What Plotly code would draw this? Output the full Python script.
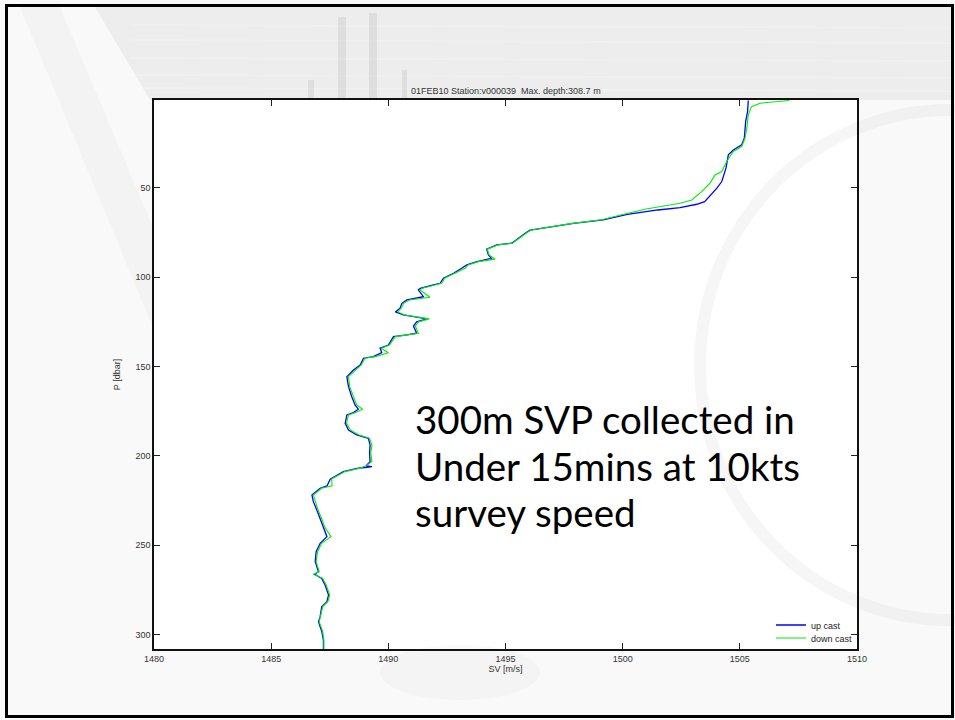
import plotly.graph_objects as go

# ---------------- data ----------------
up_p = [1.3, 7.5, 13, 22.4, 26, 29, 31.7, 39, 46.6, 50.3, 57.8, 59.3, 61.2, 62.5, 65, 68,
        70, 71.8, 73.7, 75.5, 78.3, 81.1, 82, 84.4, 87.6, 89.5, 91.4, 93.2, 95.1, 97.9,
        100.7, 103.5, 104.4, 106.3, 107.2, 111, 112.8, 114.7, 117.4, 119.5, 121.2, 123.4,
        125, 127.4, 131.4, 132.4, 133.3, 138, 139.8, 142.3, 144.5, 145.4, 149.2, 152,
        155.7, 161.3, 166.9, 171.5, 173.9, 175.8, 177.1, 181.8, 185.5, 188.3, 190.2,
        193.9, 198.5, 203.2, 205.6, 206, 206.5, 206.9, 208.8, 213, 216.8, 218.1, 221.9,
        225.6, 230.3, 234.9, 239.6, 245.2, 248.9, 253.6, 259.2, 264.8, 266.2, 268.5,
        272.2, 277.8, 281.5, 284.3, 289.9, 292.7, 298.3, 303, 308.5]
up_sv = [1505.36, 1505.33, 1505.25, 1505.19, 1505.08, 1504.72, 1504.51, 1504.41, 1504.23,
         1504.02, 1503.5, 1503.16, 1502.45, 1501.5, 1500.2, 1499.17, 1497.9, 1496.9,
         1496.05, 1495.84, 1495.55, 1495.27, 1494.63, 1494.2, 1494.27, 1494.4, 1493.78,
         1493.35, 1493.13, 1492.78, 1492.35, 1492.21, 1491.92, 1491.36, 1491.28, 1491.5,
         1490.79, 1490.58, 1490.5, 1490.3, 1490.64, 1491.65, 1491.21, 1491.07, 1491.21,
         1490.79, 1490.22, 1490.0, 1489.65, 1489.72, 1489.36, 1488.94, 1488.8, 1488.51,
         1488.23, 1488.3, 1488.44, 1488.58, 1488.72, 1488.51, 1488.23, 1488.16, 1488.3,
         1488.65, 1489.15, 1489.22, 1489.2, 1489.22, 1489.05, 1489.3, 1489.0, 1488.72,
         1488.08, 1487.52, 1487.38, 1487.09, 1486.74, 1486.8, 1486.95, 1487.09, 1487.23,
         1487.38, 1487.09, 1486.92, 1486.88, 1487.02, 1486.85, 1487.16, 1487.3, 1487.45,
         1487.38, 1487.16, 1487.09, 1487.02, 1487.16, 1487.23, 1487.23]

down_p = [1.3, 1.8, 2.8, 4.7, 9.3, 16.8, 22.4, 27, 29.8, 35.4, 41, 42.9, 47.5, 52.2, 56.9,
          58.7, 60, 62, 65, 68, 70, 71.8, 73.7, 75.5, 78.3, 81.1, 82, 84.4, 87.6, 90, 91.4,
          93.2, 95.1, 97.9, 100.7, 103.5, 104.4, 106.3, 107.2, 111.3, 112.8, 114.7, 117.4,
          119.5, 121.2, 123.4, 125, 127.4, 131.4, 132.4, 133.3, 138, 139.8, 142.3, 144.5,
          145.4, 149.2, 152, 155.7, 161.3, 166.9, 171.5, 173.9, 175.8, 177.1, 181.8, 185.5,
          188.3, 190.2, 193.9, 198.5, 203.2, 205.6, 206.9, 208.8, 213, 216.8, 218.1, 221.9,
          225.6, 230.3, 234.9, 239.6, 245.2, 248.9, 253.6, 259.2, 264.8, 266.2, 268.5,
          272.2, 277.8, 281.5, 284.3, 289.9, 292.7, 298.3, 303, 308.5]
down_sv = [1507.11, 1506.6, 1505.86, 1505.5, 1505.36, 1505.3, 1505.22, 1505.08, 1504.72,
           1504.44, 1504.23, 1503.94, 1503.73, 1503.37, 1502.95, 1502.45, 1501.8, 1501.0,
           1500.0, 1499.1, 1497.85, 1496.95, 1496.1, 1495.88, 1495.6, 1495.3, 1494.7,
           1494.22, 1494.3, 1494.56, 1493.85, 1493.4, 1493.28, 1492.85, 1492.4, 1492.28,
           1492.0, 1491.45, 1491.35, 1491.78, 1490.9, 1490.65, 1490.55, 1490.4, 1490.7,
           1491.75, 1491.3, 1491.15, 1491.28, 1490.85, 1490.3, 1490.05, 1489.7, 1490.0,
           1489.45, 1489.0, 1488.85, 1488.6, 1488.3, 1488.35, 1488.5, 1488.65, 1488.9,
           1488.6, 1488.3, 1488.22, 1488.38, 1488.75, 1489.2, 1489.3, 1489.25, 1489.3,
           1489.05, 1488.78, 1488.15, 1487.58, 1487.6, 1487.15, 1486.8, 1486.88, 1487.0,
           1487.15, 1487.28, 1487.55, 1487.15, 1486.98, 1486.92, 1487.05, 1486.8, 1487.2,
           1487.35, 1487.5, 1487.42, 1487.2, 1487.12, 1487.05, 1487.2, 1487.25, 1487.25]

x_ticks = [1480, 1485, 1490, 1495, 1500, 1505, 1510]
y_ticks = [50, 100, 150, 200, 250, 300]
title_text = "01FEB10 Station:v000039\u00a0 Max. depth:308.7 m"
note_lines = ["300m SVP collected in", "Under 15mins at 10kts", "survey speed"]
series_names = ["up cast", "down cast"]

# ---------------- layout geometry ----------------
W, H = 955, 720
L, R, T, B = 154, 857, 100, 649
PW, PH = R - L, B - T


def px(x):
    return (x - L) / PW


def py(y):
    return (B - y) / PH


fig = go.Figure()
fig.add_trace(go.Scatter(x=up_sv, y=up_p, mode="lines", name=series_names[0],
                         line=dict(color="#0000ff", width=1.3), legend="legend"))
fig.add_trace(go.Scatter(x=down_sv, y=down_p, mode="lines", name=series_names[1],
                         line=dict(color="#00f000", width=1.1), legend="legend2"))

axis_font = dict(family="Liberation Sans, Arial, sans-serif", size=9, color="#333333")
legend_font = dict(family="Liberation Sans, Arial, sans-serif", size=9, color="#222222")

fig.update_xaxes(range=[1480, 1510], tickvals=x_ticks, ticks="inside", ticklen=6,
                 tickcolor="#222222", showline=True, linecolor="#111111", linewidth=1.5,
                 mirror="ticks", showgrid=False, zeroline=False, tickfont=axis_font,
                 title=dict(text="SV [m/s]", font=axis_font, standoff=3))
fig.update_yaxes(range=[308, 1], tickvals=y_ticks, ticks="inside", ticklen=6,
                 tickcolor="#222222", showline=True, linecolor="#111111", linewidth=1.5,
                 mirror="ticks", showgrid=False, zeroline=False, tickfont=axis_font,
                 title=dict(text="P [dbar]", font=axis_font, standoff=13))

# background decorations (slide template)
shapes = []
# top textured band
shapes.append(dict(type="path", xref="paper", yref="paper",
                   path=f"M {px(95)},{py(7)} L {px(952)},{py(7)} L {px(952)},{py(100)} "
                        f"L {px(150)},{py(100)} Z",
                   fillcolor="rgba(215,215,215,0.35)", line=dict(width=0), layer="below"))
for yy in [25, 40, 58, 75, 88]:
    shapes.append(dict(type="line", xref="paper", yref="paper", x0=px(130), x1=px(952),
                       y0=py(yy), y1=py(yy + 3), line=dict(color="rgba(255,255,255,0.2)", width=2),
                       layer="below"))
# left diagonal band
shapes.append(dict(type="path", xref="paper", yref="paper",
                   path=f"M {px(20)},{py(7)} L {px(60)},{py(7)} L {px(154)},{py(230)} "
                        f"L {px(154)},{py(330)} Z",
                   fillcolor="rgba(225,225,225,0.22)", line=dict(width=0), layer="below"))
# pillars
for x0, x1, y0 in [(308, 314, 80), (338, 346, 17), (369, 377, 13), (402, 407, 70)]:
    shapes.append(dict(type="rect", xref="paper", yref="paper", x0=px(x0), x1=px(x1),
                       y0=py(100), y1=py(y0), fillcolor="rgba(205,205,205,0.45)",
                       line=dict(width=0), layer="below"))
# right swirl
shapes.append(dict(type="circle", xref="paper", yref="paper", x0=px(700), x1=px(1200),
                   y0=py(620), y1=py(110), line=dict(color="rgba(200,200,200,0.16)", width=12),
                   fillcolor="rgba(0,0,0,0)", layer="below"))
# faint smudge under the x axis
shapes.append(dict(type="circle", xref="paper", yref="paper", x0=px(380), x1=px(540),
                   y0=py(700), y1=py(645), fillcolor="rgba(200,200,200,0.09)",
                   line=dict(width=0), layer="below"))
# slide border
shapes.append(dict(type="rect", xref="paper", yref="paper", x0=px(6.5), x1=px(952.5),
                   y0=py(716.5), y1=py(5.5), line=dict(color="#000000", width=3),
                   fillcolor="rgba(0,0,0,0)", layer="above"))

note_font = dict(family="Lato, Open Sans, sans-serif", size=38.5, color="#000000")
annotations = [
    dict(text=title_text, xref="paper", yref="paper", x=0.5, y=1, yanchor="bottom",
         xanchor="center", yshift=2, showarrow=False, font=axis_font),
]
for line, yc in zip(note_lines, [419, 465.5, 512]):
    annotations.append(dict(text=line, xref="paper", yref="paper", x=px(413), y=py(yc),
                            xanchor="left", yanchor="middle", align="left",
                            showarrow=False, font=note_font))

fig.update_layout(
    width=W, height=H, margin=dict(l=L, r=W - R, t=T, b=H - B),
    paper_bgcolor="#f9f9f9", plot_bgcolor="#ffffff",
    shapes=shapes, annotations=annotations,
    legend=dict(x=px(771), xanchor="left", y=py(625), yanchor="middle",
                bgcolor="rgba(0,0,0,0)", font=legend_font, itemwidth=30),
    legend2=dict(x=px(771), xanchor="left", y=py(638), yanchor="middle",
                 bgcolor="rgba(0,0,0,0)", font=legend_font, itemwidth=30),
    showlegend=True,
)

fig.write_html("out.html")
